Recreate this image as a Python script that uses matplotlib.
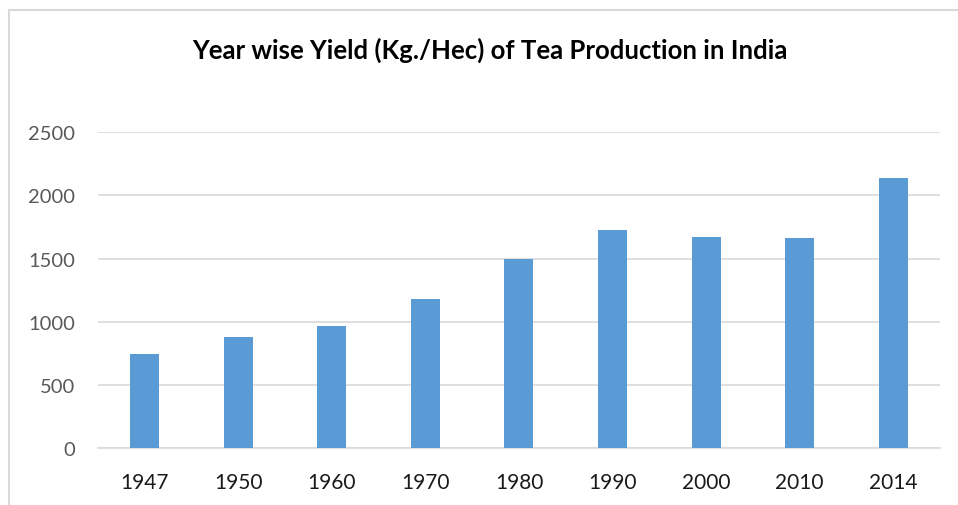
import matplotlib
matplotlib.use("Agg")
import matplotlib.pyplot as plt
from matplotlib.lines import Line2D

# --- data
years  = ["1947", "1950", "1960", "1970", "1980", "1990", "2000", "2010", "2014"]
yields = [745, 880, 970, 1180, 1495, 1726, 1675, 1667, 2137]
yticks = [0, 500, 1000, 1500, 2000, 2500]

plt.rcParams['font.family'] = ['Lato', 'DejaVu Sans']

fig = plt.figure(figsize=(9.58, 5.06), dpi=100)
ax = fig.add_axes([0.1023, 0.1120, 0.8789, 0.6246])

x = range(len(years))
ax.bar(x, yields, width=0.31, color='#5b9bd5', zorder=3)

ax.set_xlim(-0.5, len(years) - 0.5)
ax.set_ylim(0, 2500)
ax.set_yticks(yticks)
ax.set_xticks(list(x))
ax.set_xticklabels(years)

ax.grid(axis='y', color='#d9d9d9', linewidth=1.2, zorder=0)
for s in ['top', 'right', 'left']:
    ax.spines[s].set_visible(False)
ax.spines['bottom'].set_color('#d9d9d9')
ax.spines['bottom'].set_linewidth(1.2)

ax.tick_params(axis='both', length=0)
ax.tick_params(axis='y', labelsize=14.5, labelcolor='#595959', pad=16.5)
ax.tick_params(axis='x', labelsize=15, labelcolor='#1a1a1a', pad=17)

fig.text(0.511, 0.900, 'Year wise Yield (Kg./Hec) of Tea Production in India',
         ha='center', va='center', fontsize=18.5, fontweight='bold', color='black')

# chart frame (light gray, open at right/bottom like the crop)
fig.add_artist(Line2D([9/958, 9/958], [0, 1 - 11/506], transform=fig.transFigure,
                      color='#d9d9d9', linewidth=1.5))
fig.add_artist(Line2D([9/958, 1], [1 - 11/506, 1 - 11/506], transform=fig.transFigure,
                      color='#d9d9d9', linewidth=1.5))

fig.savefig('out.png', dpi=100)
